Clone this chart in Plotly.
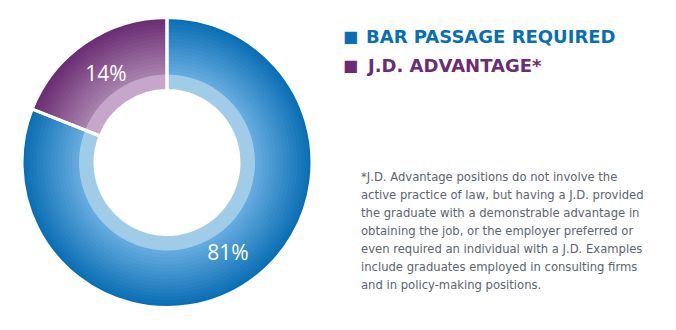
import plotly.graph_objects as go

# ---- data ----
categories = ["BAR PASSAGE REQUIRED", "J.D. ADVANTAGE*"]
shares = [81, 14]            # labelled percentages
slice_values = [81, 100 - 81]  # geometry: J.D. slice fills the remainder of the ring
legend_colors = ["#0a6eb4", "#6b2c73"]
footnote_lines = [
    "*J.D. Advantage positions do not involve the",
    "active practice of law, but having a J.D. provided",
    "the graduate with a demonstrable advantage in",
    "obtaining the job, or the employer preferred or",
    "even required an individual with a J.D. Examples",
    "include graduates employed in consulting firms",
    "and in policy-making positions.",
]

W, H = 676, 330
CX, CY = 167, 162.5          # ring centre in px (from top-left)
R_OUT, R_BAND, R_HOLE = 145, 88, 72

outer_cols = [(10, 110, 180), (106, 44, 114)]
inner_cols = [(100, 170, 222), (166, 128, 172)]
band_cols = ["#a1cce8", "#c7a6cc"]


def dom(r):
    return dict(x=[(CX - r) / W, (CX + r) / W],
                y=[(H - CY - r) / H, (H - CY + r) / H])


def mix(a, b, t):
    return "rgb(%d,%d,%d)" % tuple(round(a[i] + (b[i] - a[i]) * t) for i in range(3))


fig = go.Figure()
N = 16
for k in range(N):
    t = k / (N - 1)
    r = R_OUT - (R_OUT - R_BAND) * k / N
    fig.add_trace(go.Pie(
        labels=categories, values=slice_values, sort=False, direction="clockwise",
        rotation=0, domain=dom(r), hole=R_HOLE / r, textinfo="none",
        marker=dict(colors=[mix(outer_cols[0], inner_cols[0], t),
                            mix(outer_cols[1], inner_cols[1], t)],
                    line=dict(width=0)),
        showlegend=False, hoverinfo="skip"))

fig.add_trace(go.Pie(
    labels=categories, values=slice_values, sort=False, direction="clockwise",
    rotation=0, domain=dom(R_BAND), hole=R_HOLE / R_BAND, textinfo="none",
    marker=dict(colors=band_cols, line=dict(width=0)),
    showlegend=False, hoverinfo="skip"))

# overlay: separators + percentage labels
fig.add_trace(go.Pie(
    labels=categories, values=slice_values, sort=False, direction="clockwise",
    rotation=0, domain=dom(R_OUT), hole=R_HOLE / R_OUT,
    text=[f"{s}%" for s in shares], textinfo="text", textposition="inside",
    insidetextorientation="horizontal",
    insidetextfont=dict(family="Open Sans", size=21, color="white"),
    marker=dict(colors=["rgba(0,0,0,0)", "rgba(0,0,0,0)"],
                line=dict(color="white", width=3)),
    showlegend=False, hoverinfo="label+text"))

# legend (as annotations)
for i, (lab, col) in enumerate(zip(categories, legend_colors)):
    y = 1 - (37 + 28 * i) / H
    fig.add_annotation(x=341 / W, y=y, xref="paper", yref="paper", xanchor="left",
                       yanchor="middle", showarrow=False,
                       text="■", font=dict(family="DejaVu Sans", size=16, color=col))
    fig.add_annotation(x=364 / W, y=y, xref="paper", yref="paper", xanchor="left",
                       yanchor="middle", showarrow=False,
                       text=lab, font=dict(family="DejaVu Sans", size=18, color=col,
                                           weight="bold"))

for j, line in enumerate(footnote_lines):
    fig.add_annotation(x=359 / W, y=1 - (177 + 18 * j) / H, xref="paper", yref="paper",
                       xanchor="left", yanchor="middle", showarrow=False, text=line,
                       font=dict(family="DejaVu Sans", size=11.6, color="#5a6470"))

fig.update_layout(width=W, height=H, margin=dict(l=0, r=0, t=0, b=0),
                  paper_bgcolor="white", plot_bgcolor="white")
fig.write_html("out.html")
